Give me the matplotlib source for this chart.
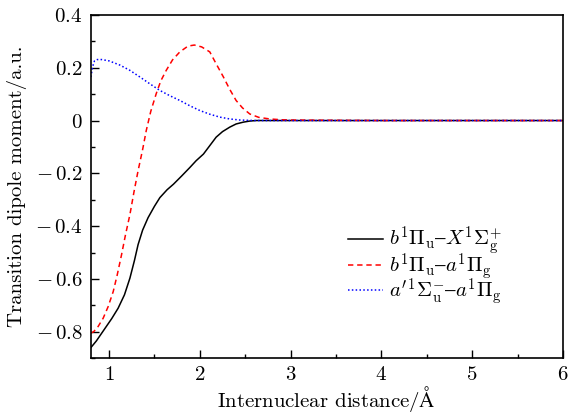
import numpy as np
import matplotlib
matplotlib.use('Agg')
import matplotlib.pyplot as plt
from matplotlib.ticker import MultipleLocator, FuncFormatter

plt.rcParams['font.family'] = ['cmr10', 'DejaVu Serif']
plt.rcParams['mathtext.fontset'] = 'cm'
plt.rcParams['axes.formatter.use_mathtext'] = True
plt.rcParams['font.size'] = 15

# b1Pu - X1Sg+
r_bx = [0.80, 0.86, 0.95, 1.03, 1.10, 1.17, 1.23, 1.28, 1.32, 1.37, 1.43, 1.50, 1.56, 1.64, 1.71,
        1.80, 1.89, 1.96, 2.04, 2.11, 2.18, 2.25, 2.33, 2.40, 2.48, 2.55, 2.62, 2.75, 3.0, 4.0, 5.0, 6.0]
d_bx = [-0.86, -0.835, -0.79, -0.75, -0.711, -0.66, -0.597, -0.53, -0.47, -0.415, -0.368, -0.325, -0.292, -0.262, -0.241,
        -0.21, -0.178, -0.152, -0.127, -0.095, -0.063, -0.042, -0.025, -0.013, -0.006, -0.002, 0.0, 0.0, 0.0, 0.0, 0.0, 0.0]

# b1Pu - a1Pg
r_ba = [0.80, 0.83, 0.88, 0.935, 0.99, 1.046, 1.09, 1.138, 1.18, 1.23, 1.275, 1.32, 1.37, 1.41, 1.46, 1.52,
        1.57, 1.63, 1.70, 1.78, 1.87, 1.94, 2.02, 2.11, 2.18, 2.26, 2.33, 2.40, 2.47, 2.55, 2.65, 2.77, 2.9, 3.0, 4.0, 5.0, 6.0]
d_ba = [-0.805, -0.80, -0.78, -0.749, -0.705, -0.648, -0.585, -0.508, -0.435, -0.356, -0.27, -0.19, -0.11, -0.038, 0.035, 0.102,
        0.15, 0.19, 0.23, 0.26, 0.282, 0.286, 0.279, 0.26, 0.215, 0.165, 0.118, 0.076, 0.048, 0.025, 0.012, 0.006, 0.003, 0.002, 0.0, 0.0, 0.0]

# a'1Su- - a1Pg
r_aa = [0.80, 0.82, 0.84, 0.87, 0.92, 1.0, 1.12, 1.23, 1.34, 1.45, 1.56, 1.67, 1.78, 1.89, 2.0, 2.11, 2.22, 2.33, 2.44, 2.6, 3.0, 4.0, 5.0, 6.0]
d_aa = [0.165, 0.205, 0.226, 0.231, 0.231, 0.226, 0.21, 0.19, 0.165, 0.139, 0.114, 0.094, 0.076, 0.056, 0.038, 0.024, 0.013, 0.006, 0.002, 0.0, 0.0, 0.0, 0.0, 0.0]

labels = [r'$b^{1}\Pi_{\rm u}$' + '$\u2013$' + r'$X^{1}\Sigma_{\rm g}^{+}$',
          r'$b^{1}\Pi_{\rm u}$' + '$\u2013$' + r'$a^{1}\Pi_{\rm g}$',
          r"$a'^{1}\Sigma_{\rm u}^{-}$" + '$\u2013$' + r'$a^{1}\Pi_{\rm g}$']

fig = plt.figure(figsize=(5.68, 4.15), dpi=100)
ax = fig.add_axes([0.160, 0.137, 0.831, 0.827])

ax.plot(r_bx, d_bx, color='black', lw=1.1, ls='-', label=labels[0])
ax.plot(r_ba, d_ba, color='red', lw=1.1, ls=(0, (3.5, 2.5)), label=labels[1])
ax.plot(r_aa, d_aa, color='blue', lw=1.1, ls=(0, (1, 1.5)), label=labels[2])

ax.set_xlim(0.8, 6)
ax.set_ylim(-0.9, 0.4)
ax.xaxis.set_major_locator(MultipleLocator(1))
ax.xaxis.set_minor_locator(MultipleLocator(0.5))
ax.yaxis.set_major_locator(MultipleLocator(0.2))
ax.yaxis.set_minor_locator(MultipleLocator(0.1))

def fmt(v, pos):
    if abs(v) < 1e-9:
        return r'$0$'
    s = '%g' % v
    return '$' + s.replace('-', '-\\,') + '$' if v < 0 else '$' + s + '$'

def fmtx(v, pos):
    return r'$%d$' % round(v)

ax.yaxis.set_major_formatter(FuncFormatter(fmt))
ax.xaxis.set_major_formatter(FuncFormatter(fmtx))
ax.tick_params(which='both', direction='in', top=False, right=False, labelsize=15)
ax.tick_params(which='major', length=6, width=1, pad=6)
ax.tick_params(which='minor', length=3, width=1)
for s in ax.spines.values():
    s.set_linewidth(1.2)

ax.set_xlabel('Internuclear distance/' + r'$\rm\AA$', fontsize=15, labelpad=0)
ax.set_ylabel('Transition dipole moment/a.u.', fontsize=15, labelpad=6)

ax.legend(loc='lower left', bbox_to_anchor=(0.505, 0.095), frameon=False, fontsize=15,
          handlelength=1.7, handletextpad=0.25, labelspacing=-0.3)

fig.savefig('out.png', dpi=100)
